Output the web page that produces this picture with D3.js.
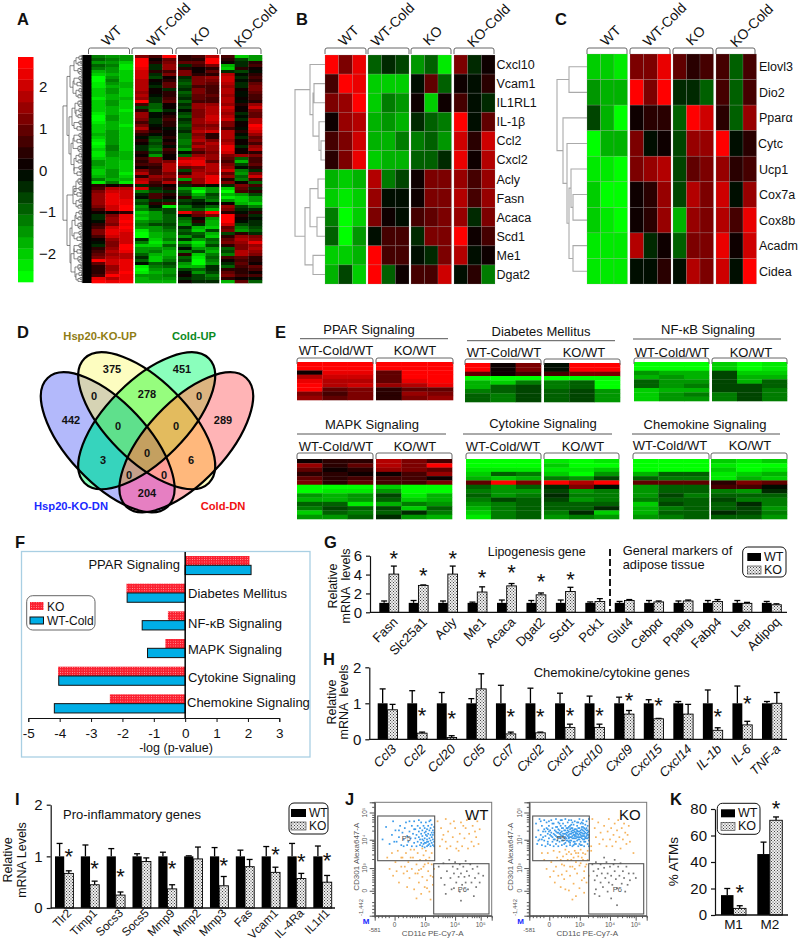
<!DOCTYPE html>
<html>
<head>
<meta charset="utf-8">
<script src="https://cdnjs.cloudflare.com/ajax/libs/d3/7.8.5/d3.min.js"></script>
<style>
body { margin: 0; background: #fff; }
text { font-family: "Liberation Sans", Arial, sans-serif; fill: #111; }
</style>
</head>
<body>
<script>
// ---- data -------------------------------------------------------------
const heatGroups = ["WT", "WT-Cold", "KO", "KO-Cold"];

const heatA = [
[-1.2,-1.4,-1.6,1.2,.8,2.7,.5,.8,1.7,.6,-2.1,-1.5],
[-1,-1.3,-1.5,2.6,.2,.9,.5,.5,2.5,.4,-.6,-1.6],
[-1.6,-1.5,-2,2.7,.5,1.2,1,.9,2.6,.1,-.4,.3],
[-1.1,-1.2,-2.3,2.7,-.5,1.4,-.4,.6,1.2,-1.8,-.3,.6],
[-1.3,-1.5,-2.3,2.4,-.3,1.6,.3,.2,.3,-2.1,.4,.2],
[-1.8,-1.6,-2.2,2.1,.4,.8,1.1,.1,.9,-.5,-.7,-.2],
[-2,-1.8,-2.1,2,-.4,1.1,1.3,.5,.4,1.7,-.2,.5],
[-2.5,-1.5,-2.2,2,-.6,.2,-.3,1.2,1.4,2,-.5,.8],
[-2.5,-1.2,-2,1.8,.1,.3,-.6,1.2,1.2,2.1,-.1,.4],
[-2.3,-1.4,-1.9,1.7,-.2,.9,-.9,1.3,.9,1.8,-.4,1],
[-2.4,-1.7,-1.9,1.8,-.5,1,-.7,.8,.7,1.6,-.5,1.2],
[-2.2,-1.6,-2.1,1.7,.2,-.3,-.3,1.1,.8,1.8,.1,1.2],
[-2,-1.5,-2.1,1.6,.1,.4,-1,1.1,.8,1.7,-.1,1],
[-2.1,-1.8,-2,1.7,-.2,.5,-.6,1,.9,1.5,-.2,.7],
[-2.4,-1.7,-1.9,1.6,-.3,.7,-.4,.9,.6,1.7,0,.8],
[-2,-1.5,-2.2,2.7,-.5,.9,-.9,.6,.7,1.9,-.1,.5],
[-2.2,-1.6,-2,.6,-1.1,.2,-.5,1.4,1.6,1.4,.4,1.6],
[-2.2,-1.9,-2.1,-.8,-1,.1,-.7,1.6,1.8,2,.2,2],
[-2,-1.8,-2.4,.5,-1.3,-.3,-.1,1.3,1.7,1.7,.1,1.3],
[-2.4,-1.7,-2.1,1.4,-.2,.2,-.6,1.1,1.9,1.6,-.4,.9],
[-2.6,-1.6,-2.2,1.6,-.1,.4,-.9,1.2,2,1.8,-.1,1],
[-2.5,-1.5,-2,1.3,-.3,.7,-.5,1.6,2.1,2.1,-.3,1.7],
[-2.3,-1.7,-2,.8,-.4,.3,-.7,1.4,1.8,1.3,.1,1.9],
[-2.1,-1.9,-2.3,1.1,-.1,.5,-.9,1.1,1.3,1.2,0,2.5],
[-2,-1.8,-2.2,1.7,0,-.2,-.8,1.5,1.4,.6,-.2,2.4],
[-2.2,-1.6,-2.1,.9,.3,.2,-.5,1.7,2,1.7,.4,2],
[-1.9,-1.5,-2.1,.3,-.2,.1,-1.1,1.3,.4,1.9,-.1,1.4],
[-2.1,-1.4,-2,-.2,-.8,.4,-1,1.6,.5,1.7,-.3,.9],
[-2.4,-1.5,-2.2,.4,-1.1,.2,-1.3,1.9,1.1,1.5,.1,1.2],
[-2.5,-1.6,-2,.2,-.7,.3,-1.2,1.1,1.9,1.9,.2,.8],
[-2.3,-1.3,-2.2,-.5,-.9,-.1,-.9,1.8,1.6,2.2,-.3,1.4],
[-2.2,-1.2,-2.1,-.3,-1.2,.6,-1.4,1.2,1.4,2.3,.2,1.7],
[-2.4,-1.4,-1.9,.5,-.8,.4,-.2,.8,1.2,2,.1,.5],
[-2.4,-1.5,-1.7,.1,-1.4,.2,-1,1.4,1.6,1.2,1.4,1.2],
[-2.1,-1.7,-1.9,.7,1.3,.2,1.8,2.1,1.5,.9,-1,.6],
[-1.6,-1.8,-2,.3,1.1,1.2,2.2,2.4,.9,.7,-1.7,.8],
[-1.5,-1.8,-2.2,.6,.8,1.9,2,2.3,1.8,1.1,-.6,1],
[-1.9,-1.7,-2.1,.2,.3,1.7,.9,1.3,1.9,1.4,-.2,.4],
[-2.1,-1.4,-2.2,1.2,.7,1.8,-.7,1.6,1.7,2,-1.3,-.4],
[-2,-1.5,-2.3,1.9,.6,1.2,.3,1.8,1.5,.9,-1.5,1.2],
[-1.8,-1.6,-2.1,.4,1.6,1.4,1.5,1.7,2.2,1.4,-.9,2],
[-1.3,-1.7,-1.9,1.7,1.1,.9,-1.4,1.6,2.3,.4,-1.2,.7],
[-2.3,-1.2,-2.4,2,.6,1.8,.8,1.4,2.4,1.2,.2,-1],
[.3,.2,.4,-.3,.4,.2,-.5,.3,-.2,-.4,1.3,.7],
[.6,1.9,1.7,2.1,-.5,.3,-1.4,-2.2,-1.4,-2,1,-.5],
[1.1,2.1,2,-1.2,-.8,-.3,-1.1,-2.5,-1.6,-2.6,.6,.4],
[1.5,2.2,2,-.5,.6,.5,-.6,-1.8,-.8,-1.9,-1.5,-.7],
[1.5,2.3,2.1,-.2,.7,.1,.3,-1.2,-1,-2.4,-2.2,-1.4],
[1.6,2.3,2.2,-1.1,-.4,-.3,-.8,-.5,-1.2,-1.5,-2.1,-1.6],
[1.4,2.2,2.3,-.8,.4,.6,-.5,-.1,-.2,.1,-1.9,-2],
[1.2,2,2.7,-1.5,-.2,-2.4,-1.3,-.5,-.9,1.5,-.8,-1.2],
[.7,2.1,2.7,-1.2,-.7,-.8,-1,-1.1,-1.8,1.2,-.4,-.5],
[.1,.2,.4,-2,-1.6,-.6,2.3,1.2,2.7,.5,-.1,.4],
[-.4,1.2,2.3,-1.7,-1.4,-.9,-.2,.9,1.1,2.7,.4,-.3],
[-.5,1.5,2.4,-2.1,-1.5,-1,-.9,-.1,-1.6,2.6,.2,-.1],
[-.2,1.5,2.5,-1.6,-1.2,-1,-1.2,.4,-1.9,2.7,-.2,-.4],
[.4,1.3,2.3,-1.2,-.7,-.8,-1.6,-.4,-1.7,2,-.8,-.3],
[.8,2,2.5,-1.4,-1.4,-.9,-.5,-1.7,-2.2,.9,-1.2,-.7],
[1.3,2.3,2.4,-2.4,-1.6,-1.2,-1.1,-2.1,-.8,1.3,-1.4,-.9],
[1.1,2.4,2.1,-2.5,-1.9,-1.4,-.7,-1,-1.9,-.6,.3,-.4],
[.7,2,2,-2.6,-1.8,-1.6,-1.4,-.6,-2.2,.3,1.6,1.2],
[.2,1.4,2.1,-.5,-2.1,-1.3,-.3,-1.6,-1.1,1,1.9,1.6],
[-.1,1.1,2.1,-1.2,-2.3,-1.8,-1.8,-2.3,-1.3,1.1,1.4,2.2],
[-.3,1.3,2.5,-2,-2,-1.1,-.9,-2,-.7,.4,1.1,1.4],
[.5,1.6,2.7,-1.6,-1.6,-1.4,-.2,-1.5,-1.5,-1,1.3,1.7],
[.8,1.9,2.4,-1.4,-1.2,-1.7,-1.3,-.8,-1.8,-.8,1.9,1.5],
[1,1.5,1.8,-1.1,-1.8,-1.9,.3,-2.1,-1.2,-1.3,1.7,1.2],
[1.2,1.8,1.9,-.4,-2,-1.4,-1.1,-2.4,-.9,.7,1,.3],
[2.6,2,2.2,-.9,-2.2,-1.2,-.7,-2.7,-1.3,.2,.6,.5],
[1,2.1,2.4,-.1,-.9,-.8,-1.5,-2.6,-1.6,-.5,.9,.2],
[.5,1.6,2.2,-2.3,-1.2,-1.1,-1.8,-1.7,-.5,-.9,.8,1],
[.4,1.4,2.3,-2.5,-1.4,-1.6,-.6,-1,-.3,.4,.3,.7],
[.3,1.8,2.6,-2.3,-1.9,-1.5,-.2,-1.4,-.7,.9,.4,.2],
[.6,2.5,2.4,-1.5,-1.6,-1.2,.1,-.8,-1.2,1.1,.7,.6],
[2.4,1.8,2.3,-1.7,-1.4,-1.4,-.4,-.6,-1.1,.3,.2,-.2],
[2.5,2.4,2.7,-1.8,-1.7,-1.9,.1,-.3,-.5,-1.8,.9,-1]
];

const heatB = [
[2.7,1.2,2.3,-1,-.5,-.8,-1.5,-1,-2.4,1.2,-.5,.1],
[.6,2.7,2.3,-2,-2,-2,-.1,.9,-.9,.1,-.1,.4],
[1.1,1.6,2.7,-2.2,-1.2,-1.4,.1,-2,.1,.8,-.1,-.4],
[.1,1.5,1.9,-1.9,-1.6,-1.7,-.5,-1,-1.3,2.7,-.1,.9],
[.7,1.2,2,-1.9,-1.7,-1.3,-1.3,-1,-1.6,2.1,.5,2.1],
[.5,1.2,2.4,-2.2,-1.7,-1.8,-1,-1,-.5,2.4,.1,1.7],
[-1.9,-2.2,-1.9,1.7,-1.3,-.8,.2,1.3,1.3,1.6,.6,1.6],
[-2,-2.3,-2.2,1.6,-.1,-.1,.2,1.3,1.3,1.7,.7,1.4],
[-1.2,-2.6,-2.2,1.2,.2,-.1,.8,.9,1.2,1.6,-.5,1.2],
[-1.1,-2.7,-1.5,-.1,.6,.6,-.5,1.2,1.3,2.5,.2,.7],
[-2,-2.2,-1.9,2.7,.6,.6,-.1,-.5,1.2,1.7,-.1,.2],
[-1.7,-.6,-2.1,2.7,-.9,.1,.7,.8,2,-.1,.5,-1.3]
];
const genesB = ["Cxcl10","Vcam1","IL1RL1","IL-1β","Ccl2","Cxcl2","Acly","Fasn","Acaca","Scd1","Me1","Dgat2"];

const heatC = [
[-2.2,-2.2,-2.4,1.2,1.2,2.2,.9,.4,.7,.7,-.9,.6],
[-1.5,-1.8,-1.9,2.7,1.3,2.7,-.5,-.5,-.9,.7,-.9,.6],
[-.7,-1.7,-2.7,.2,.5,.4,-1,2.7,2,.5,-.9,1.5],
[-2.7,-1.9,-1.9,1.1,-.1,.1,-.6,1.5,1.5,2.7,-.1,.4],
[-2.3,-2.4,-2.6,1.3,1.5,1.7,-.8,1,1.3,1.6,.5,.8],
[-2,-2.6,-2.7,.1,.5,1.5,-.6,1.7,1.3,2.1,-.1,1.5],
[-2,-2.4,-2.5,.1,.5,1.6,-1.8,1.5,1.3,1.7,.6,2.2],
[-2.3,-2.3,-2.4,1.7,-.4,.1,-1,1.3,1.3,2.4,.1,2.1],
[-2.3,-2.4,-2.4,-.1,-.1,.4,-.1,1.7,1.3,2.1,-.1,2.7]
];
const genesC = ["Elovl3","Dio2","Pparα","Cytc","Ucp1","Cox7a","Cox8b","Acadm","Cidea"];

const colorTicks = [2, 1, 0, -1, -2];

const heatPPAR = [
[2.7,2.7,2.7,2.7,2.7,2.7],
[2.7,2.7,2.7,2.7,2.7,2.7],
[0,2.4,2.3,.9,2.5,2.7],
[1.7,2.1,2,1,2.5,2.7],
[2.2,1.7,1.7,.9,2.2,2.7],
[2.7,1.9,2,1.5,1.8,2.4],
[2.7,.9,1.3,.5,1,1],
[1.2,.8,1.1,.5,1.6,1.2],
[1.5,.9,1.2,.5,1.2,1.4]
];
const heatDM = [
[2.5,.1,1.2,-.1,2.5,2.7],
[2.5,.1,1.2,-.1,2.5,2.7],
[1,.1,.8,.8,1.1,1.2],
[-2.7,-2.6,-2.6,-2.5,-2.7,-2.7],
[-1.7,-2,-1.3,-1.2,-1,-2.7],
[-1.7,-1,-.7,-1.2,-1,-2.7],
[-1.3,-.9,-.6,-1.1,-.8,-1.5],
[-1,-1.2,-.6,-1.1,-.6,-1.5],
[-1.1,-1.2,-.6,-1.1,-.6,-1.4]
];
const heatNF = [
[-2.7,-2.7,-2.7,-2.1,-2.6,-2.4],
[-2.7,-2.7,-2.7,-2.1,-2.6,-2.4],
[-1.5,-1.8,-1.7,-.6,-2.2,-2],
[-1.7,-1.6,-1.7,-.6,-1.7,-1.9],
[-1,-1.6,-1.5,-.6,-1.7,-1.1],
[-.9,-1.4,-1.2,-.6,-.8,-1.1],
[-2,-1.9,-1.9,-.7,-.8,-1.3],
[-2,-1.5,-1.2,-1.3,-.6,-1.3],
[-2,-1.5,-1.5,-1.3,-.6,-1.3]
];
const heatMAPK = [
[.1,.3,.4,1.7,1.2,.6],
[1.4,.5,.9,1.7,1.2,2.6],
[1,.2,.5,1.6,1.3,.9],
[.3,.4,0,0,.8,1.4],
[1,.3,.8,.7,.8,.1],
[1.3,.5,1,.6,.8,1.1],
[-2.7,-2.7,-2.7,-2.2,-2.7,-2.7],
[-2.5,-2.4,-2.4,-1.4,-2.5,-2.6],
[-1.4,-1.9,-1.6,-.6,-2.3,-1.7],
[-1.7,-1.7,-1.5,-1,-2.1,-1.7],
[-1.1,-.9,-2.3,-1.8,-1.2,-1.6],
[-1.2,-.6,-1,-.8,-2.2,-1],
[-2.2,-1,-1.2,-.9,-.4,-1.3],
[-1.5,-1.5,-.9,-.4,-1.6,-1.7]
];
const heatCyto = [
[-2.7,-2.7,-2.7,-2.3,-2.6,-2.4],
[-2.7,-2.7,-2.7,-2,-2.5,-2.7],
[-2.3,-2.4,-2.4,-2.4,-2.3,-2],
[-2,-1.1,-1.2,-2,-2.6,-1.5],
[-1.9,-2,-1.9,-1.3,-1.6,-.6],
[.9,2.7,1.2,2.7,1.8,2.6],
[-1,-1.5,-1.1,-.3,1.3,-.1],
[-1.3,-1.6,-1.6,-.6,-1.6,-1.2],
[-1.1,-1.4,-1.3,-.5,-1.3,-1.2],
[-1.2,-.8,-1,-.6,-1.6,-1.3],
[-1.4,-1.2,-.9,-1.1,-1,-1],
[-1.8,-1.2,-1,-.9,-1,-.3],
[-2,-1.2,-1,-1.2,-.3,-2.2],
[-2.3,-1.2,-1,-1.4,-1.2,-1.6]
];
const heatChemo = [
[-2.7,-2.7,-2.7,-2.1,-2.3,-2.1],
[-2.7,-2.7,-2.7,-2.4,-2.6,-2.5],
[-2.6,-2.6,-2.5,-2,-2.6,-2.4],
[-1.9,-1,-.9,-2.3,-2.1,-1.8],
[-1.1,-1.2,-1.2,-2.4,-1.9,-2],
[.9,1,1,.5,1.2,.9],
[-1.4,-1,-1,.6,.8,-.2],
[-1.6,-1.1,-1,-1.3,-1.4,-.4],
[-1.4,-.7,-1.2,-1,-1.1,-1.1],
[-1.3,-1,-1,-.8,-1.2,-1.2],
[-2.1,-.8,-1,-1.1,-.5,-1.3],
[-1.9,-1.2,-1,-.9,-.6,-1.4],
[-1.7,-1.1,-.9,-.4,-.8,-1.3],
[-1.5,-1.2,-1.1,-.9,-.9,-1.4]
];

const pathNames = ["PPAR Signaling","Diabetes Mellitus","NF-κB Signaling","MAPK Signaling","Cytokine Signaling","Chemokine Signaling"];
const pathKO = [2.05,-1.87,-.55,-.63,-4.05,-2.4];
const pathCold = [2.1,-1.85,-1.37,-1.2,-4.03,-4.17];

const genesG = ["Fasn","Slc25a1","Acly","Me1","Acaca","Dgat2","Scd1","Pck1","Glut4","Cebpα","Pparg","Fabp4","Lep","Adipoq"];
const wtG = [1,1,1,1,1,1,1,1,1,1,1,1,1,1];
const wtTopG = [1.2,1.25,1.2,1.08,1.3,1.25,1.3,1.1,1.15,1.25,1.2,1.25,1.25,1.15];
const koG = [4.05,2.85,4.05,2.15,2.8,1.85,2.2,1.15,1.25,1.1,1.2,1.15,.95,.8];
const koTopG = [4.9,2.9,4.9,2.7,3.05,2.05,2.65,1.45,1.35,1.2,1.3,1.35,1.05,.9];
const starsG = [[0,5.9],[1,4.1],[2,5.9],[3,3.9],[4,4.4],[5,3.4],[6,3.7]];

const genesH = ["Ccl3","Ccl2","Ccl20","Ccl5","Ccl7","Cxcl2","Cxcl1","Cxcl10","Cxcl9","Cxcl15","Cxcl14","IL-1b","IL-6","TNF-a"];
const wtH = [1,1,1,1,1,1,1,1,1,1,1,1,1,1];
const wtTopH = [1.4,1.35,1.3,1.13,1.5,1.42,1.28,1.2,1.17,1.1,1.05,1.37,1.48,1.05];
const koH = [.82,.17,.05,1.4,.15,.18,.33,.33,.7,.57,.7,.25,.4,1];
const koTopH = [.97,.2,.1,1.82,.2,.2,.42,.42,.8,.58,.97,.32,.5,1.3];
const starsH = [[1,.72],[2,.63],[4,.68],[5,.68],[6,.72],[7,.72],[8,1.12],[9,.98],[11,.68],[12,1.03]];

const genesI = ["Tlr2","Timp1","Socs3","Socs5","Mmp9","Mmp2","Mmp3","Fas","Vcam1","IL-4Ra","IL1rl1"];
const wtI = [1,1,1,1,1,1,1,1,1,1,1];
const wtTopI = [1.25,1.22,1.15,1.05,1.08,1.01,1.17,1.12,1.19,1.25,1.2];
const koI = [.67,.45,.25,.9,.37,.95,.43,.8,.69,.57,.5];
const koTopI = [.72,.52,.31,.97,.45,1.18,.61,.94,.79,.67,.63];
const starsI = [[0,1.03],[1,.8],[2,.64],[4,.79],[6,.85],[8,1.06],[9,.94],[10,.95]];

const groupsK = ["M1","M2"];
const wtK = [15,46];
const wtTopK = [20,55];
const koK = [5,71.5];
const koTopK = [7,74];
const starsK = [[0,18.5],[1,81.7]];

const vennCounts = ["375","451","442","0","278","0","289","0","0","3","0","6","0","0","204"];
const vennSubsets = [
["AB","#d6d3b4"],["BC","#96fd7e"],["CD","#dcb480"],["AC","#36d4bd"],["BD","#ffb87c"],["AD","#e67fc2"],
["ABC","#5fe08c"],["BCD","#e3bb5e"],["ACD","#c5a08a"],["ABD","#ff9e98"],["ABCD","#c4a060"]
];

// flow cytometry events, in percent of the plot box
const wtP5 = [[6,68],[9,79],[12,64],[14,72],[15,84],[17,76],[18,66],[20,70],[21,80],[22,63],[23,74],[24,68],[25,78],[26,83],[27,71],[27,63],[28,66],[29,75],[30,69],[31,80],[31,62],[32,73],[33,65],[33,84],[34,77],[34,69],[35,72],[35,62],[36,66],[36,80],[37,75],[37,70],[38,63],[38,68],[38,78],[39,73],[39,65],[39,83],[40,71],[40,62],[40,76],[41,67],[41,80],[41,64],[42,74],[42,69],[42,61],[42,78],[43,72],[43,65],[43,83],[43,75],[44,68],[44,62],[44,77],[44,71],[45,80],[45,66],[45,73],[45,63],[46,76],[46,69],[46,64],[46,84],[47,72],[47,78],[47,67],[47,62],[48,74],[48,70],[48,65],[48,81],[49,76],[49,68],[49,63],[49,72],[50,79],[50,66],[50,74],[50,62],[29,84],[24,62],[20,76],[37,85],[47,85],[16,66],[33,77],[40,68],[44,66],[42,65]];
const wtOrange = [[53,84],[56,78],[58,72],[60,86],[60,66],[62,75],[64,82],[64,62],[66,70],[68,78],[69,60],[70,66],[72,73],[73,83],[74,62],[76,69],[77,78],[78,85],[79,60],[80,73],[82,66],[83,80],[84,62],[85,75],[86,70],[87,84],[88,64],[89,77],[55,62],[57,68],[61,60],[67,84],[71,58],[75,80],[81,86],[10,52],[12,42],[14,56],[15,36],[17,48],[19,58],[20,30],[22,44],[23,52],[24,38],[26,56],[27,26],[28,48],[29,34],[30,59],[31,42],[32,52],[33,24],[34,38],[35,46],[36,56],[37,30],[38,50],[39,20],[39,42],[40,35],[41,54],[42,26],[42,46],[43,58],[44,32],[45,40],[46,52],[46,22],[47,36],[48,46],[48,56],[49,28],[50,42],[47,15],[35,16],[25,44],[18,40],[40,60],[33,59],[37,41],[43,50],[30,52],[36,38],[45,47],[41,44],[27,40],[22,52],[49,35],[44,25]];
const wtP6 = [[54,44],[56,34],[58,47],[59,28],[61,40],[63,50],[64,34],[65,24],[66,44],[67,38],[68,48],[69,30],[70,42],[71,35],[72,22],[72,46],[73,38],[74,28],[75,44],[76,35],[77,49],[77,30],[78,40],[79,24],[80,36],[81,46],[82,30],[83,42],[84,18],[85,34],[86,26],[87,44],[88,38],[89,30],[60,20],[73,14],[92,36],[67,25]];
const koP5 = [[5,70],[5,82],[6,64],[7,76],[8,86],[8,68],[9,72],[10,63],[10,80],[11,75],[12,67],[12,85],[13,71],[13,62],[14,78],[14,83],[15,66],[15,73],[16,69],[16,80],[17,63],[17,76],[18,85],[18,71],[19,66],[19,78],[20,73],[20,62],[20,82],[21,68],[21,76],[22,86],[22,71],[22,64],[23,79],[23,74],[23,67],[24,83],[24,70],[24,62],[25,76],[25,66],[25,73],[26,80],[26,69],[26,85],[27,63],[27,75],[27,71],[28,78],[28,67],[28,82],[29,73],[29,64],[29,76],[30,70],[30,86],[30,80],[31,67],[31,74],[31,62],[32,78],[32,71],[32,83],[33,66],[33,75],[33,69],[34,80],[34,73],[34,63],[34,77],[35,70],[35,85],[35,67],[36,74],[36,78],[36,62],[37,72],[37,81],[37,66],[38,75],[38,69],[38,84],[39,77],[39,71],[39,64],[40,73],[40,80],[40,67],[41,75],[41,62],[41,70],[42,78],[42,86],[42,73],[43,66],[43,76],[43,82],[44,71],[44,63],[44,74],[45,79],[45,68],[45,85],[46,75],[46,62],[46,71],[47,81],[47,66],[47,77],[48,73],[48,69],[48,84],[49,64],[49,76],[49,80],[50,72],[50,67],[50,62],[50,86],[30,76],[31,72],[32,74],[33,72],[34,70],[35,75],[36,71],[36,76],[37,74],[38,72],[39,74],[40,76],[41,72],[42,70],[43,72],[44,77],[45,73],[46,78],[28,73],[26,74],[24,77],[22,75],[20,68],[18,74],[16,75],[12,77],[9,84],[7,67],[15,64],[41,83],[33,85],[27,85],[38,64],[44,83],[47,70],[49,72],
[30,73],[31,69],[32,76],[33,70],[34,67],[35,73],[35,78],[36,69],[37,76],[37,69],[38,71],[38,77],[39,69],[39,73],[40,70],[40,75],[41,68],[41,78],[42,75],[42,68],[43,74],[43,70],[44,69],[44,79],[45,71],[45,76],[46,68],[46,73],[47,74],[47,69],[48,76],[48,71],[49,74],[49,69],[33,79],[35,81],[31,78],[29,69],[28,71],[27,67],[26,72],[25,70],[24,74],[23,70],[21,72],[19,70],[17,72],[15,77],[13,75],[11,70],[10,68],[36,83],[40,83],[45,82],[48,78],[50,75],[50,70],[30,65],[34,65],[38,66],[42,64],[46,66],[27,78],[25,82],[22,79],[19,82],[16,84],[37,63],[43,63],[32,67]];
const koOrange = [[53,86],[55,78],[56,70],[58,83],[59,64],[60,74],[62,68],[63,80],[65,62],[66,75],[67,86],[68,68],[69,78],[70,62],[71,72],[72,82],[73,66],[74,76],[75,85],[76,70],[77,60],[78,78],[79,68],[80,82],[81,74],[82,64],[83,72],[84,80],[85,66],[88,56],[12,50],[14,42],[15,56],[17,35],[18,48],[20,58],[21,30],[22,44],[23,52],[24,36],[25,57],[26,26],[27,46],[28,53],[29,33],[30,59],[31,40],[32,50],[33,23],[34,36],[35,55],[36,44],[37,29],[38,58],[39,48],[39,18],[40,38],[41,53],[42,25],[42,45],[43,59],[44,32],[45,50],[46,40],[46,21],[47,55],[48,30],[48,46],[49,58],[50,36],[33,57],[37,52],[41,56],[44,52],[34,44],[26,50],[20,40],[30,24],[36,15],[10,56],[47,44],[49,50],[27,37],[52,58],[52,62],[39,56],[35,50],[43,47],[45,56],[31,55],[38,42],[46,34],[29,45]];
const koP6 = [[53,46],[54,40],[55,32],[56,48],[56,24],[57,36],[58,42],[59,18],[60,30],[60,46],[61,38],[62,26],[63,43],[64,34],[65,48],[66,22],[66,38],[67,30],[68,44],[69,36],[69,16],[70,28],[71,46],[72,40],[73,33],[74,25],[75,44],[76,36],[77,47],[78,29],[79,40],[80,34],[81,22],[82,44],[83,28],[84,38],[85,32],[88,38],[90,34],[55,20],[74,10],[63,52],[72,50]];
// biexponential ticks of the cytometer, in percent of the plot box
const flowMajorX = [[17,"0"],[43,"10³"],[68.7,"10⁴"],[90.6,"10⁵"]];
const flowMajorY = [[22,"0"],[42,"10³"],[67,"10⁴"],[91,"10⁵"]];
const flowMinor = [3,6,9,12,20,24,27,30,32,34,36,38,40,50,54,58,60,62,64,66,75,79,83,85,87,89,96];

// dendrograms: [height, child, child]; 0 is a leaf
const treeB = [30,
  [15,0,[12,[11,0,0],[6,0,[4,0,0]]]],
  [20,[15,[7,0,0],[8,0,0]],[12,0,0]]
];
const treeC = [30,
  [18,0,0],
  [24,0,[20,0,[18,[16,0,[14,0,0]],[14,0,0]]]]
];
const tA1 = [15,[12,[10,0,[9,0,0]],[9,[10,0,0],0]],[13,[11,[9,0,0],[10,0,0]],[9,0,[9,0,0]]]];
const tA2 = [17,[12,[10,[9,0,0],[9,0,0]],[11,0,[9,0,0]]],[14,[11,0,[10,0,0]],[10,[9,0,0],[9,0,0]]]];
const tA3 = [13,[11,[9,0,0],[10,0,0]],[12,[10,0,[9,0,0]],[9,0,0]]];
const treeA = [28,
  [24,[21,[17,tA1,tA3],[18,tA2,tA1]],[22,[19,[16,tA3,tA1],tA2],[20,[18,tA2,tA3],[17,tA1,tA2]]]],
  [24,[18,[15,tA3,tA2],tA1],[21,[19,[16,tA1,tA3],tA2],[20,[17,tA2,tA3],[16,tA3,tA1]]]]
];

// ---- page -------------------------------------------------------------
const svg = d3.select("body").append("svg").attr("width", 800).attr("height", 943);
const defs = svg.append("defs");

defs.append("filter").attr("id", "soft").append("feGaussianBlur").attr("stdDeviation", .45);

// dotted fills of the KO bars
let dots = defs.append("pattern").attr("id", "dotKO").attr("width", 3).attr("height", 3).attr("patternUnits", "userSpaceOnUse");
dots.append("rect").attr("width", 3).attr("height", 3).attr("fill", "#eee");
dots.append("rect").attr("width", 1).attr("height", 1).attr("fill", "#444");
dots.append("rect").attr("x", 1.5).attr("y", 1.5).attr("width", 1).attr("height", 1).attr("fill", "#444");
let dotsRed = defs.append("pattern").attr("id", "dotRed").attr("width", 2.4).attr("height", 2.4).attr("patternUnits", "userSpaceOnUse");
dotsRed.append("rect").attr("width", 2.4).attr("height", 2.4).attr("fill", "#fb2030");
dotsRed.append("rect").attr("width", .8).attr("height", .8).attr("fill", "#ffb0b0");

function label(x, y, t, size, opt) {
  opt = opt || {};
  let n = svg.append("text").attr("x", x).attr("y", y).attr("font-size", size).text(t)
    .attr("text-anchor", opt.anchor || "start");
  if (opt.bold) n.attr("font-weight", "bold");
  if (opt.color) n.style("fill", opt.color);
  if (opt.rotate !== undefined) n.attr("transform", "rotate(" + opt.rotate + "," + x + "," + y + ")");
  return n;
}

// panel letters
[["A",17,25],["B",296,25],["C",555,25],["D",17,338],["E",275,338],["F",15,548],["G",324,548],["H",323,665],["I",15,805],["J",345,805],["K",670,805]]
  .forEach(d => label(d[1], d[2], d[0], 16.5, {bold: true}));

// ---- heatmaps ---------------------------------------------------------
const colorScale = d3.scaleQuantize().domain([-2.75, 2.75]).range(d3.range(20).map(i => {
  let v = (i + .5) / 10 - 1;
  return v < 0 ? d3.rgb(0, Math.round(-v * 275), 0).formatRgb() : d3.rgb(Math.round(v * 275), 0, 0).formatRgb();
}));

function bracket(x0, x1, y) {
  let p = d3.path();
  p.moveTo(x0, y + 6); p.lineTo(x0, y + 2); p.quadraticCurveTo(x0, y, x0 + 2, y);
  p.lineTo(x1 - 2, y); p.quadraticCurveTo(x1, y, x1, y + 2); p.lineTo(x1, y + 6);
  svg.append("path").attr("d", p.toString()).attr("fill", "none").attr("stroke", "#666").attr("stroke-width", 1);
}

// spans: pixel extent of each block of columns
function drawHeat(values, spans, y0, y1, grid) {
  let rows = d3.scaleBand().domain(d3.range(values.length)).range([y0, y1]);
  let perBlock = values[0].length / spans.length;
  let g = svg.append("g");
  spans.forEach((s, b) => {
    let cols = d3.scaleBand().domain(d3.range(perBlock)).range(s);
    let gb = g.append("g");
    if (!grid) gb.attr("filter", "url(#soft)");
    values.forEach((row, r) => {
      row.slice(b * perBlock, (b + 1) * perBlock).forEach((v, c) => {
        gb.append("rect").attr("x", cols(c)).attr("y", rows(r))
          .attr("width", cols.bandwidth() + (grid ? 0 : .3)).attr("height", rows.bandwidth() + (grid ? 0 : .3))
          .attr("fill", colorScale(v))
          .attr("stroke", grid ? "#9a9a9a" : "none").attr("stroke-opacity", .35).attr("stroke-width", .6);
      });
    });
  });
}

function groupHeads(spans, labelAt) {
  spans.forEach((s, i) => {
    bracket(s[0] - 1, s[1] - 1, 48);
    label(labelAt[i][0], labelAt[i][1], heatGroups[i], 14, {rotate: -45, anchor: "middle"});
  });
}

// color key of panel A
let keyY = d3.scaleLinear().domain([-2.7, 2.7]).range([282, 57]);
colorScale.range().forEach((c, i) => {
  let step = 5.4 / 20;
  svg.append("rect").attr("x", 18).attr("width", 15.5)
    .attr("y", keyY(-2.7 + (i + 1) * step)).attr("height", keyY(-2.7) - keyY(step - 2.7) + .3)
    .attr("fill", c);
});
colorTicks.forEach(v => label(39, keyY(v) + 6, d3.format("")(v).replace("-", "−"), 15));

// dendrograms
function drawTree(tree, xRight, y0, y1, stroke, width) {
  let root = d3.hierarchy(tree, d => Array.isArray(d) ? d.slice(1) : null);
  let leaves = root.leaves();
  let y = d3.scaleLinear().domain([0, leaves.length]).range([y0, y1]);
  leaves.forEach((l, i) => { l.py = y(i + .5); });
  root.eachAfter(n => {
    n.h = n.children ? n.data[0] : 0;
    if (n.children) n.py = d3.mean(n.children, c => c.py);
  });
  let p = d3.path();
  root.each(n => {
    if (!n.children) return;
    let a = n.children[0], b = n.children[1];
    p.moveTo(xRight - a.h, a.py); p.lineTo(xRight - n.h, a.py);
    p.lineTo(xRight - n.h, b.py); p.lineTo(xRight - b.h, b.py);
  });
  svg.append("path").attr("d", p.toString()).attr("fill", "none").attr("stroke", stroke).attr("stroke-width", width);
}

const spansA = [[91.5,133],[135,176],[178,219],[221,262]];
drawTree(treeA, 91, 55, 283, "#555", .7);
svg.append("rect").attr("x", 82.5).attr("y", 55).attr("width", 9.5).attr("height", 228).attr("fill", "#000");
drawHeat(heatA, spansA, 55, 283, false);
groupHeads([[89.5,130.5],[133,173.5],[177,218.5],[221,262]], [[115,39],[172,28],[204,39],[259,29]]);

const spansB = [[325,366],[368,409],[411,451.5],[454,495]];
drawTree(treeB, 325, 55, 284, "#aaa", 1.1);
drawHeat(heatB, spansB, 55, 284, true);
groupHeads([[326,367],[369,410],[412,452],[455,495]], [[352,39],[396,28],[436,39],[492,29]]);
let rowsB = d3.scaleBand().domain(genesB).range([55, 284]);
genesB.forEach(g => label(496.5, rowsB(g) + rowsB.bandwidth() / 2 + 4.5, g, 12.5));

const spansC = [[587,627.5],[630,671],[673,713.5],[716,756.5]];
drawTree(treeC, 587, 54, 284, "#aaa", 1.1);
drawHeat(heatC, spansC, 54, 284, true);
groupHeads([[588,628],[631,671],[674,714],[717,756]], [[614,39],[668,28],[699,39],[755,29]]);
let rowsC = d3.scaleBand().domain(genesC).range([54, 284]);
genesC.forEach(g => label(g == "Cytc" ? 758 : 759, rowsC(g) + rowsC.bandwidth() / 2 + 4.5, g, 12.5));

// ---- venn -------------------------------------------------------------
const vennEllipses = {
  A: {cx: 107.7, cy: 442.3, angle: 47, fill: "#b3b9fb"},
  B: {cx: 146.7, cy: 420.7, angle: 45, fill: "#fdfdc0"},
  C: {cx: 146.7, cy: 420.7, angle: -45, fill: "#8affbc"},
  D: {cx: 186.3, cy: 442.3, angle: -47, fill: "#ffb4b6"}
};
function vennShape(sel, e) {
  return sel.append("ellipse").attr("cx", e.cx).attr("cy", e.cy).attr("rx", 88).attr("ry", 40)
    .attr("transform", "rotate(" + e.angle + "," + e.cx + "," + e.cy + ")");
}
let vg = svg.append("g");
Object.keys(vennEllipses).forEach(k => {
  vennShape(defs.append("clipPath").attr("id", "venn" + k), vennEllipses[k]);
  vennShape(vg, vennEllipses[k]).attr("fill", vennEllipses[k].fill);
});
vennSubsets.forEach(s => {
  let g = vg;
  s[0].split("").forEach(k => { g = g.append("g").attr("clip-path", "url(#venn" + k + ")"); });
  g.append("rect").attr("x", 30).attr("y", 340).attr("width", 240).attr("height", 180).attr("fill", s[1]);
});
Object.keys(vennEllipses).forEach(k => {
  vennShape(vg, vennEllipses[k]).attr("fill", "none").attr("stroke", "#000").attr("stroke-width", 2.2);
});
const vennLabelAt = [[112,373],[182,373],[71,424],[94,400],[147,398],[199,400],[223,424],[118,430],[176,430],[103,464],[147,457],[191,464],[129,479],[164,479],[147,497]];
vennCounts.forEach((t, i) => label(vennLabelAt[i][0], vennLabelAt[i][1], t, 11, {bold: true, anchor: "middle"}));
label(100, 339.5, "Hsp20-KO-UP", 11.2, {bold: true, anchor: "middle", color: "#8f7d14"});
label(194, 339.5, "Cold-UP", 11.2, {bold: true, anchor: "middle", color: "#0a8a1e"});
label(71, 509.5, "Hsp20-KO-DN", 11.2, {bold: true, anchor: "middle", color: "#1a2aff"});
label(223, 509.5, "Cold-DN", 11.2, {bold: true, anchor: "middle", color: "#f01010"});

// ---- panel E ----------------------------------------------------------
const pathPanels = [
  {name: "PPAR Signaling", vals: heatPPAR, spans: [[297,373],[376,453]], y: [362,400], ty: 334, line: [300,448,338.7], cx: 369, sub: [336,415,355], by: 358},
  {name: "Diabetes Mellitus", vals: heatDM, spans: [[465,541],[544,620]], y: [363,402], ty: 336, line: [467,615,340.7], cx: 541, sub: [504,584,357], by: 359},
  {name: "NF-κB Signaling", vals: heatNF, spans: [[634,709],[712,787]], y: [362,401], ty: 334, line: [633,781,339], cx: 708, sub: [672,751,357], by: 358},
  {name: "MAPK Signaling", vals: heatMAPK, spans: [[297,373],[376,452]], y: [459,519], ty: 429, line: [297,446,434], cx: 372, sub: [336,415,451], by: 453},
  {name: "Cytokine Signaling", vals: heatCyto, spans: [[466,541],[544,619]], y: [459,519], ty: 428, line: [463,612,434], cx: 543, sub: [503,583,451], by: 453},
  {name: "Chemokine Signaling", vals: heatChemo, spans: [[633,709],[711,787]], y: [459,519], ty: 429, line: [632,780,434], cx: 705, sub: [670,750,450], by: 453}
];
pathPanels.forEach(p => {
  drawHeat(p.vals, p.spans, p.y[0], p.y[1], false);
  label(p.cx, p.ty, p.name, 13, {anchor: "middle"});
  svg.append("line").attr("x1", p.line[0]).attr("x2", p.line[1]).attr("y1", p.line[2]).attr("y2", p.line[2])
    .attr("stroke", "#555").attr("stroke-width", 1);
  label(p.sub[0], p.sub[2], "WT-Cold/WT", 13, {anchor: "middle"});
  label(p.sub[1], p.sub[2], "KO/WT", 13, {anchor: "middle"});
  bracket(p.spans[0][0], p.spans[0][1], p.by);
  bracket(p.spans[1][0], p.spans[1][1], p.by);
});

// ---- panel F ----------------------------------------------------------
svg.append("rect").attr("x", 21.5).attr("y", 551.5).attr("width", 288.5).attr("height", 205.5)
  .attr("fill", "none").attr("stroke", "#a9cfe3").attr("stroke-width", 1.3);
let fx = d3.scaleLinear().domain([-5, 3]).range([28.3, 279.3]);
let fy = d3.scaleBand().domain(pathNames).range([556, 556 + 6 * 27.67]);
let barF = 9.3;
pathNames.forEach((n, i) => {
  svg.append("rect").attr("x", Math.min(fx(0), fx(pathKO[i]))).attr("y", fy(n))
    .attr("width", Math.abs(fx(pathKO[i]) - fx(0))).attr("height", barF).attr("fill", "url(#dotRed)");
  svg.append("rect").attr("x", Math.min(fx(0), fx(pathCold[i]))).attr("y", fy(n) + barF)
    .attr("width", Math.abs(fx(pathCold[i]) - fx(0))).attr("height", barF)
    .attr("fill", "#00aee6").attr("stroke", "#111").attr("stroke-width", 1);
});
svg.append("line").attr("x1", fx(0)).attr("x2", fx(0)).attr("y1", 552).attr("y2", 718).attr("stroke", "#000").attr("stroke-width", 1.5);
let fAxis = svg.append("g").attr("transform", "translate(0,718)")
  .call(d3.axisBottom(fx).tickValues(d3.range(-5, 4)).tickSize(4).tickSizeOuter(4).tickFormat(d3.format("d")).tickPadding(6));
fAxis.selectAll("text").attr("font-size", 13.5).attr("font-family", "Liberation Sans").text(d => String(d));
fAxis.selectAll("line,path").attr("stroke", "#111");
label(176, 752, "-log (p-value)", 12.5, {anchor: "middle"});
const fLabelAt = [[180,569,"end"],[188,598,"start"],[188,628,"start"],[188,654,"start"],[188,682,"start"],[187,707,"start"]];
pathNames.forEach((n, i) => label(fLabelAt[i][0], fLabelAt[i][1], n, 13, {anchor: fLabelAt[i][2]}));
svg.append("rect").attr("x", 26.7).attr("y", 595.7).attr("width", 68.3).attr("height", 34.3).attr("rx", 6)
  .attr("fill", "#fff").attr("stroke", "#666").attr("stroke-width", 1);
svg.append("rect").attr("x", 30).attr("y", 602).attr("width", 13.5).attr("height", 8).attr("fill", "url(#dotRed)");
svg.append("rect").attr("x", 30).attr("y", 617).attr("width", 13.5).attr("height", 7).attr("fill", "#00aee6").attr("stroke", "#111");
label(47, 611, "KO", 12);
label(47, 625, "WT-Cold", 12);

// ---- grouped bars -----------------------------------------------------
function wtKoLegend(x, y, w, h, sx, tx, size) {
  svg.append("rect").attr("x", x).attr("y", y).attr("width", w).attr("height", h).attr("rx", 5)
    .attr("fill", "#fff").attr("stroke", "#111").attr("stroke-width", 1);
  svg.append("rect").attr("x", sx).attr("y", y + 6).attr("width", tx - sx - 3).attr("height", 8).attr("fill", "#000");
  svg.append("rect").attr("x", sx).attr("y", y + 19).attr("width", tx - sx - 3).attr("height", 8).attr("fill", "url(#dotKO)").attr("stroke", "#333").attr("stroke-width", .6);
  label(tx, y + 14, "WT", size);
  label(tx, y + 27, "KO", size);
}

function drawBars(c) {
  let y = d3.scaleLinear().domain(c.domain).range([c.y0, c.y1]);
  let x0 = d3.scaleBand().domain(c.names).range([c.start, c.start + (c.names.length - 1) * c.step + 2 * c.bw]).paddingInner(1 - 2 * c.bw / c.step);
  let x1 = d3.scaleBand().domain(["wt", "ko"]).range([0, x0.bandwidth()]);
  let g = svg.append("g");
  [["wt", c.wt, c.wtTop], ["ko", c.ko, c.koTop]].forEach(s => {
    c.names.forEach((n, i) => {
      let bx = x0(n) + x1(s[0]), mid = bx + x1.bandwidth() / 2;
      g.append("line").attr("x1", mid).attr("x2", mid).attr("y1", y(s[1][i])).attr("y2", y(s[2][i])).attr("stroke", "#000").attr("stroke-width", 1.3);
      g.append("line").attr("x1", mid - 3).attr("x2", mid + 3).attr("y1", y(s[2][i])).attr("y2", y(s[2][i])).attr("stroke", "#000").attr("stroke-width", 1.3);
      g.append("rect").attr("x", bx).attr("y", y(s[1][i])).attr("width", x1.bandwidth()).attr("height", y(0) - y(s[1][i]))
        .attr("fill", s[0] == "wt" ? "#000" : "url(#dotKO)").attr("stroke", "#000").attr("stroke-width", s[0] == "wt" ? 0 : .9);
    });
  });
  c.stars.forEach(s => {
    let n = c.names[s[0]];
    label(x0(n) + x1("ko") + x1.bandwidth() / 2, y(s[1]) + c.starSize * .42, "*", c.starSize, {anchor: "middle"});
  });
  let axisY = svg.append("g").attr("transform", "translate(" + c.axisX + ",0)")
    .call(d3.axisLeft(y).tickValues(c.ticks).tickSize(4).tickSizeOuter(0).tickPadding(4).tickFormat(d3.format("d")));
  axisY.selectAll("text").attr("font-size", 15).attr("font-family", "Liberation Sans");
  axisY.selectAll("line,path").attr("stroke", "#111").attr("stroke-width", 1.2);
  svg.append("line").attr("x1", c.axisX).attr("x2", c.endX).attr("y1", c.y0).attr("y2", c.y0).attr("stroke", "#111").attr("stroke-width", 1.3);
  let axisX = svg.append("g").attr("transform", "translate(0," + c.y0 + ")").call(d3.axisBottom(x0).tickSize(0).tickPadding(0));
  axisX.select(".domain").remove();
  axisX.selectAll("text").attr("font-size", c.labelSize).attr("font-family", "Liberation Sans")
    .attr("font-style", c.italic ? "italic" : "normal")
    .attr("text-anchor", c.upright ? "middle" : "end")
    .attr("transform", c.upright ? null : "translate(" + (c.labelX === undefined ? 3 : c.labelX) + "," + (c.labelY === undefined ? 4 : c.labelY) + ") rotate(-45)")
    .attr("dy", c.upright ? "1em" : ".71em");
}

drawBars({names: genesG, wt: wtG, wtTop: wtTopG, ko: koG, koTop: koTopG, stars: starsG,
  domain: [0, 6], ticks: [0, 2, 4, 6], y0: 612.3, y1: 555.7, axisX: 370, endX: 787, start: 379.3, step: 29.43, bw: 9.7, starSize: 22, labelSize: 13});
label(536.7, 556, "Lipogenesis gene", 12.5, {anchor: "middle"});
label(622.7, 555, "General markers of", 12.8);
label(622.7, 569, "adipose tissue", 12.8);
svg.append("line").attr("x1", 610).attr("x2", 610).attr("y1", 549).attr("y2", 612).attr("stroke", "#000").attr("stroke-width", 1.8).attr("stroke-dasharray", "7,3");
wtKoLegend(742.7, 547, 43.3, 30, 747.3, 764, 12.5);
label(337, 586, "Relative", 12.5, {anchor: "middle", rotate: -90});
label(350, 586, "mRNA  levels", 12.5, {anchor: "middle", rotate: -90}).attr("xml:space", "preserve");

drawBars({names: genesH, wt: wtH, wtTop: wtTopH, ko: koH, koTop: koTopH, stars: starsH,
  domain: [0, 2], ticks: [0, 1, 2], y0: 739.3, y1: 667.3, axisX: 369.3, endX: 787, start: 377.7, step: 29.56, bw: 9.9, starSize: 22, labelSize: 13, italic: true});
label(611.7, 677, "Chemokine/cytokine genes", 13, {anchor: "middle"});
label(336, 702, "Relative", 12.5, {anchor: "middle", rotate: -90});
label(348, 702, "mRNA  levels", 12.5, {anchor: "middle", rotate: -90}).attr("xml:space", "preserve");

drawBars({names: genesI, wt: wtI, wtTop: wtTopI, ko: koI, koTop: koTopI, stars: starsI,
  domain: [0, 2], ticks: [0, 1, 2], y0: 908, y1: 804.7, axisX: 50.7, endX: 335, start: 55, step: 25.83, bw: 9.2, starSize: 22, labelSize: 11.8, labelX: 2, labelY: 0});
label(63, 819, "Pro-inflammatory genes", 13);
wtKoLegend(289, 803, 39, 31, 291, 309, 12);
label(12, 860, "Relative", 12.5, {anchor: "middle", rotate: -90});
label(26, 860, "mRNA Levels", 12.5, {anchor: "middle", rotate: -90});

drawBars({names: groupsK, wt: wtK, wtTop: wtTopK, ko: koK, koTop: koTopK, stars: starsK,
  domain: [0, 80], ticks: [0, 20, 40, 60, 80], y0: 915, y1: 809, axisX: 715, endX: 788, start: 721, step: 36.3, bw: 12.5, starSize: 22, labelSize: 13.5, upright: true});
wtKoLegend(717.3, 803.3, 42.7, 31, 721, 738, 12.5);
label(678, 861.7, "% ATMs", 13.5, {anchor: "middle", rotate: -90});

// ---- panel J ----------------------------------------------------------
function drawFlow(x0, x1, p5, orange, p6, gate5, gate6, name, nameX) {
  let x = d3.scaleLinear().domain([0, 100]).range([x0, x1]);
  let y = d3.scaleLinear().domain([0, 100]).range([915.7, 802.3]);
  svg.append("rect").attr("x", x0).attr("y", 802.3).attr("width", x1 - x0).attr("height", 113.4)
    .attr("fill", "#fff").attr("stroke", "#777").attr("stroke-width", 1);
  [[orange, "#f5b35c"], [p6, "#777"], [p5, "#3b9bea"]].forEach(s => {
    svg.append("g").attr("filter", "url(#soft)").selectAll("rect").data(s[0]).join("rect")
      .attr("x", d => x(d[0])).attr("y", d => y(d[1])).attr("width", 1.7).attr("height", 1.7)
      .attr("fill", s[1]);
  });
  [gate5, gate6].forEach(r => {
    svg.append("rect").attr("x", r[0]).attr("y", r[2]).attr("width", r[1] - r[0]).attr("height", r[3] - r[2])
      .attr("fill", "none").attr("stroke", "#555").attr("stroke-width", 1.1);
  });
  label(gate5[0] + 24, 841, "P5", 7.5, {color: "#555"});
  label(gate6[0] + 24, 892, "P6", 7.5, {color: "#555"});
  label(nameX, 820, name, 15);

  let bottom = (vals, size) => svg.append("g").attr("transform", "translate(0,915.7)")
    .call(d3.axisBottom(x).tickValues(vals).tickSize(size).tickFormat(""))
    .call(a => a.selectAll("line,path").attr("stroke", "#555"));
  let left = (vals, size) => svg.append("g").attr("transform", "translate(" + x0 + ",0)")
    .call(d3.axisLeft(y).tickValues(vals).tickSize(size).tickFormat(""))
    .call(a => a.selectAll("line,path").attr("stroke", "#555"));
  bottom(flowMinor, 2.5); bottom(flowMajorX.map(d => d[0]), 5);
  left(flowMinor, 2.5); left(flowMajorY.map(d => d[0]), 5);
  flowMajorX.forEach(d => label(x(d[0]), 927, d[1], 6.5, {anchor: "middle", color: "#555"}));
  flowMajorY.forEach(d => label(x0 - 7.5, y(d[0]), d[1], 6.5, {anchor: "middle", rotate: -90, color: "#555"}));
  label(x0 - 16, 856.7, "CD301 Alexa647-A", 8, {anchor: "middle", rotate: -90, color: "#555"});
  label(x0 + 58, 935.5, "CD11c PE-Cy7-A", 8, {anchor: "middle", color: "#555"});
  label(x0 - 12, 924, "M", 8, {bold: true, color: "#1a2aff"});
  label(x0 - 6, 932, "-581", 6, {color: "#555"});
  label(x0 - 12, 916, "-1,442", 6, {rotate: -90, color: "#555"});
}
drawFlow(374.7, 491.7, wtP5, wtOrange, wtP6, [377.7,434.7,816,860.7], [433.7,489,863.7,914], "WT", 465);
drawFlow(529.3, 646.7, koP5, koOrange, koP6, [532.7,589.3,816,860.7], [588.7,643.7,863.7,914], "KO", 619);
</script>
</body>
</html>
